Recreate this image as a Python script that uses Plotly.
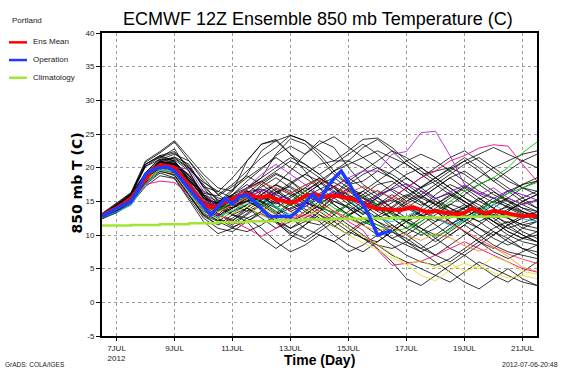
import plotly.graph_objects as go

# ---- time axes (July day number, 12Z start on 6 JUL) ----
t12 = [6.5 + 0.5 * i for i in range(31)]           # 12-hourly members
t6_mean = [6.5 + 0.25 * i for i in range(61)]      # 6-hourly ens mean
t6_oper = [6.5 + 0.25 * i for i in range(41)]      # 6-hourly operational (to day 10)
t_clim = [6.5 + i for i in range(16)]              # daily climatology

x_tickvals = [7, 9, 11, 13, 15, 17, 19, 21]
x_ticktext = ["7JUL<br>2012", "9JUL", "11JUL", "13JUL", "15JUL", "17JUL", "19JUL", "21JUL"]
y_tickvals = [-5, 0, 5, 10, 15, 20, 25, 30, 35, 40]

ens_mean = [12.8, 13.5, 14.0, 14.6, 15.4, 16.8, 18.4, 19.8, 20.3, 20.3, 19.9, 18.7, 17.2, 15.8, 14.5,
            14.1, 14.3, 14.9, 15.4, 15.8, 16.0, 15.7, 15.6, 15.8, 15.3, 15.0, 14.8, 15.1, 15.8, 16.0,
            15.8, 15.7, 15.9, 15.7, 15.5, 15.2, 14.7, 14.2, 13.9, 13.9, 13.8, 13.7, 13.9, 14.1, 13.7,
            13.4, 13.6, 13.3, 13.3, 13.1, 13.3, 13.9, 13.5, 13.2, 13.6, 13.4, 13.1, 12.9, 12.8, 12.9, 12.8]

operation = [12.8, 13.4, 14.0, 14.5, 15.0, 16.8, 19.0, 19.7, 20.0, 20.1, 19.5, 18.2, 16.8, 15.5, 14.4,
             13.0, 14.2, 15.4, 14.6, 15.7, 15.9, 15.0, 13.9, 12.8, 12.7, 12.8, 12.7, 13.6, 14.8, 16.0,
             15.0, 17.0, 18.4, 19.5, 17.8, 15.9, 14.6, 12.5, 10.0, 10.4, 10.7]

climatology = [11.4, 11.5, 11.6, 11.75, 11.9, 12.05, 12.2, 12.3, 12.4, 12.5, 12.55, 12.6, 12.7, 12.75, 12.8, 12.9]

mem01 = [12.6,13.8,15.2,18.9,21.0,20.5,17.0,13.5,12.8,14.5,16.8,18.0,19.5,21.0,20.0,18.5,17.0,15.0,13.5,12.0,11.0,12.5,14.0,16.0,17.5,16.5,15.0,14.0,12.5,11.0,10.5]
mem02 = [12.9,14.3,15.8,19.2,21.5,22.8,19.5,16.0,14.5,13.0,12.0,9.5,8.0,9.5,11.5,13.5,16.0,18.0,19.5,21.0,22.5,21.5,20.0,18.5,17.0,15.5,14.5,13.0,12.5,11.5,11.0]
mem03 = [12.5,13.5,15.0,18.0,19.5,19.0,16.0,13.0,11.5,12.5,14.0,15.5,17.0,16.0,14.5,13.0,12.0,10.5,9.5,8.5,8.0,9.0,10.5,12.0,13.5,14.5,13.0,11.5,10.0,9.0,8.5]
mem04 = [13.0,14.5,16.0,20.5,21.8,21.0,18.5,15.5,14.0,15.5,17.0,18.5,22.0,24.3,23.5,21.5,19.0,17.5,18.0,19.5,18.5,17.0,15.5,14.5,13.0,12.0,13.5,15.0,16.5,17.5,18.0]
mem05 = [12.7,13.9,15.5,18.5,20.2,19.5,16.5,13.8,12.0,13.5,15.0,14.0,12.5,11.0,12.0,13.5,15.0,14.0,12.5,11.5,10.5,9.5,8.0,9.5,11.0,12.5,14.0,15.5,14.5,13.5,12.5]
mem06 = [12.8,14.1,15.6,18.8,20.8,21.5,20.0,17.5,15.0,14.0,15.5,17.5,19.0,18.0,16.0,17.5,19.5,21.0,20.0,18.0,16.5,15.0,16.0,17.5,19.0,20.5,21.5,20.0,18.5,17.0,16.0]
mem07 = [12.4,13.6,15.0,17.8,19.8,20.2,18.0,14.5,13.5,16.0,17.5,16.0,14.0,12.5,11.0,10.0,9.0,10.5,12.0,11.0,9.5,8.5,7.5,8.5,10.0,11.5,10.0,8.5,7.5,7.0,6.5]
mem08 = [13.1,14.6,16.2,20.2,21.2,22.0,21.0,18.5,16.0,14.5,13.5,14.5,16.0,17.5,19.0,20.5,21.0,21.0,23.0,24.2,22.5,20.5,19.0,19.5,20.0,19.0,17.5,16.0,15.0,14.0,13.5]
mem09 = [12.6,13.7,15.3,18.2,20.0,19.2,16.8,14.0,12.5,11.5,13.0,14.5,16.5,15.0,13.5,15.0,16.5,15.5,14.0,12.5,13.5,15.0,16.5,15.0,13.5,12.0,11.0,10.0,11.5,12.5,13.0]
mem10 = [12.9,14.2,15.7,18.6,20.5,20.0,17.5,15.0,14.5,16.5,21.0,23.5,24.0,22.0,19.5,17.0,14.5,13.0,14.0,15.5,17.0,18.5,17.0,15.5,14.0,13.0,12.0,13.0,14.5,15.5,16.5]
mem11 = [12.5,13.4,14.8,17.5,19.2,18.5,15.5,12.5,11.0,10.5,12.0,13.5,12.0,10.0,9.0,10.5,12.0,13.5,15.0,14.0,12.5,11.0,10.0,11.0,12.5,14.0,15.5,14.0,12.5,11.5,12.0]
mem12 = [13.0,14.4,16.0,19.3,21.3,20.8,18.0,16.5,15.5,15.0,16.0,15.0,14.0,15.5,17.0,18.5,17.0,15.5,16.5,18.0,19.5,21.0,22.0,21.0,19.5,18.0,16.5,15.5,14.0,13.0,12.0]
mem13 = [12.7,14.0,15.5,18.3,20.0,20.6,19.0,16.0,13.0,12.0,14.0,16.5,15.0,13.5,14.5,16.0,14.5,13.0,11.5,10.0,8.5,7.0,6.0,5.5,6.5,8.0,9.5,11.0,12.0,10.5,9.5]
mem14 = [12.8,14.0,15.4,18.7,20.6,21.2,19.5,15.5,14.0,14.5,15.0,16.0,17.5,19.5,22.0,24.0,23.0,20.0,17.5,16.0,17.5,19.0,20.0,18.5,17.0,15.5,14.0,12.5,11.0,10.0,9.0]
mem15 = [12.6,13.8,15.1,18.0,19.8,19.0,16.0,12.8,11.5,13.0,14.0,12.5,11.0,12.0,13.5,12.0,10.0,8.5,7.5,9.0,10.5,12.0,11.0,9.5,8.0,7.0,8.5,10.0,11.5,12.5,13.0]
mem16 = [13.2,14.7,16.3,21.0,22.4,24.0,21.5,19.0,17.0,16.5,19.0,22.5,24.0,24.8,24.0,22.0,19.5,17.5,15.5,14.5,15.5,17.0,18.5,20.0,21.5,22.5,21.0,19.5,18.0,17.0,16.5]
mem17 = [12.6,13.9,15.4,18.4,20.1,19.6,17.0,14.2,13.0,15.0,16.5,15.0,13.5,12.0,13.0,14.5,13.0,11.5,10.0,8.5,7.0,6.0,5.0,4.0,3.0,4.5,6.0,5.0,4.0,3.0,2.5]
mem18 = [12.9,14.2,15.8,18.9,20.9,20.5,18.5,16.0,15.0,16.0,17.0,18.0,16.5,15.0,16.5,18.0,19.5,20.5,21.5,22.5,21.5,20.5,19.0,17.5,16.0,14.5,13.5,12.5,13.5,15.0,16.0]
mem19 = [12.7,13.9,15.3,18.1,19.9,19.3,16.5,13.5,12.5,14.0,15.5,14.5,13.0,14.0,15.0,13.5,12.0,13.0,14.5,13.0,11.5,10.0,11.5,13.0,14.5,16.0,17.5,18.5,17.0,15.5,14.0]
mem20 = [12.8,14.1,15.6,18.5,20.4,20.9,18.0,14.8,13.5,15.5,17.0,18.5,20.0,21.5,20.5,19.0,17.0,15.0,13.5,12.0,10.5,9.0,8.0,7.0,8.5,10.0,11.5,13.0,11.5,10.0,9.0]
mem21 = [12.5,13.6,15.0,17.9,19.6,18.8,15.8,13.0,12.0,11.0,10.5,11.5,13.0,14.5,16.0,17.5,18.5,17.0,15.5,14.0,12.5,11.0,12.5,14.0,15.5,17.0,18.5,20.0,21.0,22.0,22.5]
mem22 = [13.0,14.4,15.9,18.9,21.0,21.6,20.5,17.0,14.5,13.5,14.5,16.0,17.5,16.5,15.0,14.0,15.5,17.0,16.0,14.5,13.0,12.0,13.0,14.5,16.0,15.0,13.5,12.0,10.5,9.5,10.0]
mem23 = [12.7,13.8,15.2,18.3,20.2,19.8,17.5,15.0,14.0,13.0,12.5,13.5,15.0,13.5,12.0,11.5,13.0,14.5,16.0,17.5,18.0,16.5,15.0,13.5,12.0,10.5,9.0,8.0,9.5,11.0,12.0]
mem24 = [12.8,14.0,15.5,18.6,20.7,20.3,17.8,15.2,14.8,16.8,18.5,20.0,21.5,20.0,18.5,17.0,15.5,14.0,12.5,11.0,9.5,10.5,12.0,13.5,12.0,10.5,9.0,7.5,6.5,7.5,8.5]
mem25 = [12.6,13.7,15.2,18.2,20.1,20.0,17.2,14.3,13.8,15.2,16.2,14.8,13.2,14.8,16.5,17.8,16.2,14.5,13.0,14.5,16.0,14.5,13.0,11.5,10.0,11.5,13.0,14.5,15.5,14.5,13.5]
mem26 = [12.9,14.3,15.8,19.1,21.1,21.4,19.8,17.8,16.5,15.5,14.0,13.0,12.0,11.0,12.5,14.0,15.5,16.5,15.0,13.5,12.5,14.0,15.5,17.0,18.5,19.5,18.0,16.5,15.0,13.5,12.5]
mem27 = [12.7,14.0,15.5,18.4,20.3,19.7,16.8,13.8,12.8,14.2,15.8,17.2,18.5,17.0,15.5,14.0,12.5,11.0,9.5,9.0,10.5,12.0,13.5,15.0,14.0,12.5,11.0,9.5,8.5,9.5,10.5]
mem28 = [12.8,14.1,15.6,18.6,20.6,20.4,18.2,15.8,14.2,13.2,14.5,15.8,14.2,12.8,14.2,15.8,17.2,18.5,17.0,15.5,14.0,15.5,17.0,18.0,16.5,15.0,13.5,12.0,13.5,15.0,16.0]
mem29 = [12.5,13.6,14.9,17.7,19.4,19.0,16.2,13.2,12.2,11.8,13.2,14.8,16.2,17.8,19.0,18.0,16.5,15.0,16.5,15.0,13.5,12.0,10.5,9.0,10.5,12.0,13.5,12.0,10.5,9.5,9.0]
mem30 = [13.1,14.5,16.1,20.5,21.6,22.2,20.2,17.2,15.2,14.8,16.2,17.8,19.2,18.0,16.5,15.0,13.5,12.5,11.5,12.8,14.2,15.8,17.2,18.5,19.8,21.0,22.0,23.0,22.0,21.0,20.0]
mem31 = [12.7,13.9,15.4,18.3,20.2,20.0,17.6,14.6,13.2,12.2,13.6,15.2,16.8,15.2,13.8,12.5,11.2,12.8,14.2,15.6,14.0,12.5,11.0,10.0,11.5,13.0,12.0,10.5,9.0,8.0,7.5]
mem32 = [12.8,14.0,15.5,18.5,20.4,20.6,18.8,16.2,15.8,17.2,18.8,17.5,16.0,14.5,13.0,14.5,16.0,17.5,19.0,20.0,19.0,17.5,16.0,14.5,15.8,17.2,16.0,14.8,16.2,17.5,18.5]
mem33 = [12.7,14.0,15.5,18.6,20.5,20.2,17.4,14.6,14.0,15.2,16.4,16.8,15.6,14.4,15.6,16.8,17.8,16.6,15.4,14.2,13.4,14.6,15.8,14.6,13.4,12.6,13.8,15.0,14.2,13.4,13.0]
mem34 = [12.8,14.2,15.7,18.9,20.9,20.6,18.2,15.4,14.8,15.8,16.6,15.4,14.6,15.8,17.0,16.0,15.0,14.2,13.2,14.4,15.2,14.0,12.8,13.6,14.6,13.8,12.6,13.4,14.2,13.2,12.4]
mem35 = [12.6,13.8,15.2,18.2,20.0,19.7,17.0,14.2,13.6,14.8,15.6,16.6,17.4,16.2,15.0,16.2,17.2,16.0,14.8,16.0,16.8,15.6,14.4,15.4,16.2,15.0,13.8,12.8,13.8,14.6,15.2]
mem36 = [12.9,14.3,15.8,19.0,20.8,20.4,17.6,14.8,14.4,15.6,16.2,15.2,16.4,17.2,16.0,14.8,15.8,16.8,15.6,14.4,13.2,12.4,13.6,12.4,11.6,12.6,13.8,12.8,11.8,12.8,13.4]
mem37 = [12.7,13.9,15.3,18.3,20.3,20.0,17.2,14.4,13.8,14.6,15.4,14.2,15.2,16.2,17.4,18.4,17.2,15.8,14.6,13.6,14.8,16.0,14.8,13.6,12.8,14.0,15.2,16.4,15.2,14.0,13.0]
mem38 = [12.8,14.1,15.6,18.7,20.7,20.9,18.8,15.8,14.4,14.0,15.0,15.8,14.8,13.8,14.8,14.0,13.4,14.6,15.6,16.6,15.4,14.2,13.0,12.0,13.0,14.2,13.2,12.0,11.0,11.8,12.6]
mem39 = [12.8,14.2,15.9,20.5,21.8,22.4,20.0,17.2,16.4,18.5,21.0,23.5,24.2,22.0,20.5,19.0,20.5,22.0,23.5,22.0,20.0,18.5,17.0,18.5,20.0,21.5,20.0,18.0,16.5,15.0,14.0]
mem40 = [12.4,13.3,14.6,17.2,18.8,18.4,15.2,12.0,10.2,11.0,12.5,11.0,9.0,7.5,8.5,10.0,9.0,7.5,8.5,10.0,11.5,10.0,8.5,7.0,6.0,7.5,9.0,10.5,9.5,8.0,7.0]
mem41 = [12.9,14.4,16.2,20.8,22.2,23.8,21.0,18.0,16.0,17.5,19.5,21.5,23.0,24.8,24.0,22.5,21.0,22.5,24.2,24.4,23.0,21.0,19.5,18.0,19.5,21.0,19.5,18.0,19.5,21.0,22.0]
mem42 = [12.6,13.7,15.1,18.0,19.6,19.2,16.4,13.4,12.6,14.0,15.2,13.8,12.0,10.5,9.5,11.0,12.5,11.0,9.5,8.0,6.0,3.5,2.5,4.0,5.5,7.0,5.5,4.0,3.0,4.5,6.0]
mem43 = [12.8,14.2,15.8,20.2,21.6,21.0,18.2,15.6,14.6,16.0,18.0,19.8,21.8,23.2,22.0,23.5,24.6,23.0,21.5,20.0,18.5,17.0,15.5,17.0,18.5,17.0,15.5,14.0,15.5,17.0,18.0]
mem44 = [12.7,13.9,15.3,18.3,20.1,20.4,17.4,14.2,12.4,11.2,12.0,13.2,11.8,10.2,11.5,13.0,11.4,10.0,11.8,13.0,11.0,9.0,7.5,6.0,4.5,3.0,2.0,3.5,5.0,3.5,2.5]

mem_violet = [12.6,13.8,15.3,18.5,20.5,20.0,19.8,16.5,14.0,15.5,17.0,19.0,20.5,19.0,17.5,16.0,17.0,18.5,19.5,19.5,22.0,22.4,25.2,25.4,21.8,17.5,16.0,17.0,15.5,14.5,15.0]
mem_pink_hi = [12.9,14.2,15.7,18.7,20.6,20.3,17.8,15.0,13.5,14.5,15.5,16.5,15.0,13.5,12.5,14.0,15.5,17.0,15.5,14.0,15.5,17.0,18.5,19.5,21.0,21.8,22.9,23.4,23.2,20.5,18.0]
mem_pink_lo = [12.7,13.9,15.2,17.5,18.0,17.8,16.0,14.0,13.0,12.0,11.0,9.8,11.0,12.5,13.0,12.0,13.5,12.0,10.7,7.8,5.5,5.8,6.1,7.0,8.0,9.0,8.0,7.0,6.0,5.0,4.5]
mem_green = [12.8,14.0,15.5,18.3,20.2,19.8,17.0,14.0,13.5,15.0,16.0,15.5,14.0,15.0,16.5,15.5,14.0,13.0,12.0,11.5,10.5,11.0,12.0,13.5,15.0,16.5,17.5,18.5,20.0,22.2,23.8]
mem_green2 = [12.7,13.9,15.4,18.4,20.3,19.6,16.8,14.4,13.8,14.8,15.8,14.6,13.4,14.6,15.4,14.2,13.2,14.6,15.8,14.4,13.0,11.8,10.4,9.8,10.8,12.2,13.6,15.0,16.2,17.0,17.8]
mem_yellow = [12.8,14.1,15.6,18.2,19.8,19.4,16.6,13.8,12.6,13.8,14.8,13.6,12.2,11.6,12.8,13.6,12.4,11.0,9.8,8.6,7.2,5.6,4.0,3.2,4.8,5.8,5.0,6.8,6.0,4.6,4.2]
mem_yellow2 = [12.6,13.8,15.2,18.0,19.6,19.1,16.2,13.4,12.4,13.2,14.2,13.0,12.0,13.2,14.4,12.8,11.2,10.0,8.8,7.8,6.6,5.6,6.2,5.2,5.8,4.6,5.4,4.4,3.6,4.0,3.5]
mem_orange = [12.7,14.0,15.4,18.6,20.4,20.1,17.4,14.6,13.4,14.4,15.6,14.2,13.0,12.2,13.4,14.6,13.6,12.4,11.4,10.6,11.2,10.0,9.2,10.2,9.6,8.4,7.6,8.2,6.8,5.2,4.6]
mem_cyan = [12.5,13.4,14.4,17.6,19.6,19.4,16.4,13.6,12.6,13.6,14.6,15.4,14.2,13.0,14.2,15.4,16.6,15.2,13.6,12.4,12.0,12.8,13.8,12.6,11.4,12.2,13.4,14.6,13.2,12.4,12.0]
mem_red = [12.8,14.1,15.7,18.8,20.6,20.0,17.8,15.2,14.2,15.4,16.8,17.8,17.0,16.2,17.4,18.2,17.0,16.2,17.2,16.4,15.6,14.8,13.6,12.6,11.8,10.6,9.4,8.2,7.2,6.4,5.8]
mem_purple = [12.7,14.0,15.5,18.5,20.4,20.2,17.6,14.9,14.2,15.0,16.0,16.8,16.0,15.2,14.2,15.4,16.4,15.6,14.6,15.8,16.8,17.6,16.6,15.4,16.4,17.4,16.2,15.4,16.6,16.0,15.2]

black_members = [mem01, mem02, mem03, mem04, mem05, mem06, mem07, mem08, mem09, mem10,
                 mem11, mem12, mem13, mem14, mem15, mem16, mem17, mem18, mem19, mem20,
                 mem21, mem22, mem23, mem24, mem25, mem26, mem27, mem28, mem29, mem30,
                 mem31, mem32, mem33, mem34, mem35, mem36, mem37, mem38, mem39, mem40,
                 mem41, mem42, mem43, mem44]
colored_members = [(mem_violet, "rgb(170,40,220)"), (mem_pink_hi, "rgb(240,0,130)"),
                   (mem_pink_lo, "rgb(240,0,130)"), (mem_green, "rgb(0,200,0)"),
                   (mem_green2, "rgb(0,200,0)"), (mem_yellow, "rgb(230,220,50)"),
                   (mem_yellow2, "rgb(230,220,50)"), (mem_orange, "rgb(240,150,40)"),
                   (mem_cyan, "rgb(0,190,230)"), (mem_red, "rgb(250,60,60)"),
                   (mem_purple, "rgb(130,0,220)")]

fig = go.Figure()
for m in black_members:
    fig.add_trace(go.Scatter(x=t12, y=m, mode="lines", line=dict(color="rgba(0,0,0,0.88)", width=0.9),
                             hoverinfo="skip", showlegend=False))
for m, c in colored_members:
    fig.add_trace(go.Scatter(x=t12, y=m, mode="lines", line=dict(color=c, width=0.9),
                             hoverinfo="skip", showlegend=False))

fig.add_trace(go.Scatter(x=t_clim, y=climatology, mode="lines", line=dict(color="rgb(160,230,50)", width=2.5),
                         showlegend=False, line_shape="hv"))
fig.add_trace(go.Scatter(x=t6_mean, y=ens_mean, mode="lines", line=dict(color="rgb(255,0,0)", width=4),
                         showlegend=False))
fig.add_trace(go.Scatter(x=t6_oper, y=operation, mode="lines", line=dict(color="rgb(30,60,255)", width=3.5),
                         showlegend=False))

FONT = "Liberation Sans, Arial, sans-serif"
small = dict(family=FONT, size=8, color="#222")

fig.update_layout(
    width=563, height=375, autosize=False,
    margin=dict(l=102, r=26, t=33, b=34),
    paper_bgcolor="white", plot_bgcolor="white",
    font=small,
    xaxis=dict(range=[6.5, 21.5], tickvals=x_tickvals, ticktext=x_ticktext,
               showline=True, linecolor="black", linewidth=2, mirror=True,
               ticks="outside", ticklen=3, tickcolor="black", tickwidth=1,
               showgrid=True, gridcolor="#9a9a9a", griddash="dot", gridwidth=1,
               zeroline=False, tickfont=small),
    yaxis=dict(range=[-5, 40], tickvals=y_tickvals, ticktext=[str(v) for v in y_tickvals],
               showline=True, linecolor="black", linewidth=2, mirror=True,
               ticks="outside", ticklen=4, tickcolor="black", tickwidth=1,
               showgrid=True, gridcolor="#9a9a9a", griddash="dot", gridwidth=1,
               zeroline=False, tickfont=small),
)

def px2paper(px, py):
    return (px - 102) / 435.0, (341 - py) / 308.0

ann = []
tx, ty = px2paper(318, 19)
ann.append(dict(x=tx, y=ty, xref="paper", yref="paper", text="ECMWF 12Z Ensemble 850 mb Temperature (C)",
                showarrow=False, xanchor="center", yanchor="middle",
                font=dict(family=FONT, size=18, color="black")))
tx, ty = px2paper(319, 365)
ann.append(dict(x=tx, y=ty, xref="paper", yref="paper", text="<b>Time (Day)</b>",
                showarrow=False, xanchor="center", yanchor="middle",
                font=dict(family=FONT, size=14, color="black")))
tx, ty = px2paper(77, 186)
ann.append(dict(x=tx, y=ty, xref="paper", yref="paper", text="<b>850 mb T (C)</b>", textangle=-90,
                showarrow=False, xanchor="center", yanchor="middle",
                font=dict(family="DejaVu Sans, sans-serif", size=14, color="black")))
tx, ty = px2paper(10, 20)
ann.append(dict(x=tx, y=ty, xref="paper", yref="paper", text="Portland", showarrow=False,
                xanchor="left", yanchor="middle", font=dict(family=FONT, size=8, color="#222")))
legend_items = [("Ens Mean", "rgb(255,0,0)", 42.5), ("Operation", "rgb(30,60,255)", 60.5),
                ("Climatology", "rgb(160,230,50)", 78.5)]
shapes = []
for name, col, py in legend_items:
    x0, y0 = px2paper(9, py)
    x1, _ = px2paper(27, py)
    shapes.append(dict(type="line", xref="paper", yref="paper", x0=x0, x1=x1, y0=y0, y1=y0,
                       line=dict(color=col, width=2.5)))
    tx, ty = px2paper(31, py - 0.5)
    ann.append(dict(x=tx, y=ty, xref="paper", yref="paper", text=name, showarrow=False,
                    xanchor="left", yanchor="middle", font=dict(family=FONT, size=8, color="#222")))
tx, ty = px2paper(3, 370)
ann.append(dict(x=tx, y=ty, xref="paper", yref="paper", text="GrADS: COLA/IGES", showarrow=False,
                xanchor="left", yanchor="middle", font=dict(family=FONT, size=6.5, color="#222")))
tx, ty = px2paper(560, 370)
ann.append(dict(x=tx, y=ty, xref="paper", yref="paper", text="2012-07-06-20:48", showarrow=False,
                xanchor="right", yanchor="middle", font=dict(family=FONT, size=7, color="#222")))

fig.update_layout(annotations=ann, shapes=shapes)
fig.write_html("out.html", config={"displayModeBar": False},
               post_script="document.body.style.margin='0';document.body.style.padding='0';")
